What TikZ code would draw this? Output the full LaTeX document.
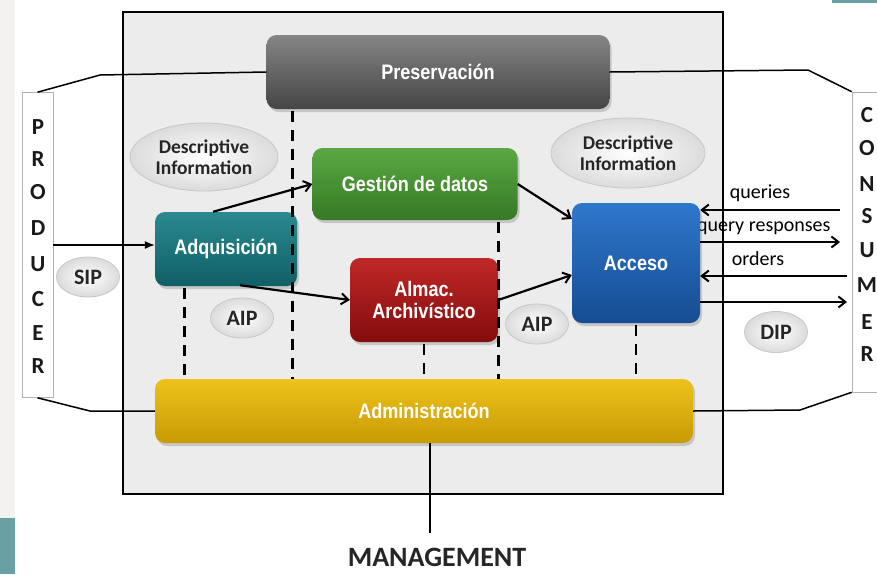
\documentclass[tikz,border=0pt]{standalone}
\usepackage{fontspec}
\setmainfont{Carlito}
\newfontfamily\boxfont[FakeStretch=0.86]{Liberation Sans}
\usetikzlibrary{arrows.meta,shapes.geometric,shadows,calc}
\definecolor{pagegray}{HTML}{F4F2F0}
\definecolor{slideteal}{HTML}{6AA0A4}
\definecolor{panel}{HTML}{ECECEC}
\definecolor{presT}{HTML}{858585}
\definecolor{presB}{HTML}{454545}
\definecolor{admT}{HTML}{EDC21A}
\definecolor{admB}{HTML}{C99A05}
\definecolor{adqT}{HTML}{2A8A8F}
\definecolor{adqB}{HTML}{0F5F66}
\definecolor{gesT}{HTML}{5AA843}
\definecolor{gesB}{HTML}{367A24}
\definecolor{almT}{HTML}{C02828}
\definecolor{almB}{HTML}{840C0C}
\definecolor{accT}{HTML}{2E78CC}
\definecolor{accB}{HTML}{164C92}
\tikzset{
  box/.style={rounded corners=10pt, inner sep=0pt, align=center,
    text=white, font=\boxfont\bfseries\fontsize{21}{24}\selectfont,
    drop shadow={opacity=0.35, shadow xshift=2pt, shadow yshift=-3pt}},
  oval/.style={ellipse, inner sep=0pt, draw=black!22, line width=0.8pt,
    inner color=white, outer color=black!14, align=center,
    font=\bfseries\fontsize{19.5}{21}\selectfont, text=black!85},
  strip/.style={draw=black!30, fill=white, line width=0.6pt, inner sep=0pt},
  letter/.style={font=\bfseries\fontsize{23}{23}\selectfont, text=black!90, inner sep=0pt},
  link/.style={line width=1.5pt},
  flow/.style={line width=2.2pt, -{Straight Barb[length=7pt,width=11pt,line width=2pt]}},
  dashline/.style={line width=2.8pt, dash pattern=on 11pt off 8pt},
  lbl/.style={font=\fontsize{20}{22}\selectfont, inner sep=0pt}
}
\begin{document}
\begin{tikzpicture}[x=1pt,y=-1pt]
\useasboundingbox (0,0) rectangle (877,574);
\fill[white] (0,0) rectangle (877,574);
\fill[pagegray] (0,0) rectangle (15,518);
\fill[slideteal] (0,518) rectangle (15,574);
\fill[slideteal] (832,0) rectangle (877,3);

% main panel
\draw[line width=1.6pt, fill=panel] (123,12) rectangle (723,494);

% side strips
\node[strip, minimum width=31pt, minimum height=305pt] (prod) at (37.5,245) {};
\node[strip, minimum width=40pt, minimum height=300pt] (cons) at (872,242) {};
\foreach \l/\yy [count=\i] in {P/127,R/159,O/192,D/228,U/264,C/299,E/333,R/366}
  \node[letter] (p\i) at (38,\yy) {\l};
\foreach \l/\yy [count=\i] in {C/115,O/148,N/184,S/216,U/250,M/285,E/322,R/354}
  \node[letter] (c\i) at (867,\yy) {\l};

% labels behind the Acceso box
\node[lbl] (lq) at (760,193) {queries};
\node[lbl, anchor=west] (lqr) at (697,228) {query responses};
\node[lbl] (lo) at (758,259) {orders};

% boxes
\node[box, minimum width=343pt, minimum height=74pt, top color=presT, bottom color=presB] (pres) at (438,72) {Preservación};
\node[box, minimum width=538pt, minimum height=64pt, top color=admT, bottom color=admB] (adm) at (424,411) {Administración};
\node[box, minimum width=142pt, minimum height=74pt, top color=adqT, bottom color=adqB] (adq) at (226,249) {Adquisición};
\node[box, minimum width=205pt, minimum height=72pt, top color=gesT, bottom color=gesB] (ges) at (415,184) {Gestión de datos};
\node[box, minimum width=148pt, minimum height=84pt, top color=almT, bottom color=almB] (alm) at (424,300) {Almac.\\[-2pt]Archivístico};
\node[box, minimum width=128pt, minimum height=120pt, top color=accT, bottom color=accB] (acc) at (636,263) {Acceso};

% ovals
\node[oval, minimum width=148pt, minimum height=68pt] (di1) at (204,157) {Descriptive\\Information};
\node[oval, minimum width=154pt, minimum height=70pt] (di2) at (628,153) {Descriptive\\Information};
\node[oval, minimum width=63pt, minimum height=40pt, font=\bfseries\fontsize{22}{22}\selectfont] (sip) at (88,277) {SIP};
\node[oval, minimum width=63pt, minimum height=40pt, font=\bfseries\fontsize{22}{22}\selectfont] (aip1) at (242,318) {AIP};
\node[oval, minimum width=63pt, minimum height=40pt, font=\bfseries\fontsize{22}{22}\selectfont] (aip2) at (537,324) {AIP};
\node[oval, minimum width=63pt, minimum height=41pt, font=\bfseries\fontsize{22}{22}\selectfont] (dip) at (776,332) {DIP};

% producer / consumer links
\draw[link] (prod.north) -- (100,75) -- (pres.west);
\draw[link] (pres.east) -- (808,70) -- (cons.north west);
\draw[link] (prod.south) -- (90,411) -- (adm.west);
\draw[link] (adm.east) -- (800,410) -- (cons.south west);

% internal flows
\draw[line width=1.3pt, -{Latex[length=10pt,width=8pt]}] (prod.east) -- (prod.east -| adq.west);
\draw[flow] ($(adq.north)+(-13,0)$) -- (ges.west);
\draw[flow] ($(adq.south)+(14,-1)$) -- (alm.west);
\draw[flow] (ges.east) -- ($(acc.north west)+(0,16)$);
\draw[flow] (alm.east) -- ($(acc.west)+(0,12)$);

% consumer flows
\coordinate (q1) at (840,210);
\coordinate (q2) at (840,242);
\coordinate (q3) at (847,276);
\coordinate (q4) at (847,302);
\draw[flow] (q1) -- (q1 -| acc.east);
\draw[flow] (q2 -| acc.east) -- (q2);
\draw[flow] (q3) -- (q3 -| acc.east);
\draw[flow] (q4 -| acc.east) -- (q4);

% dashed lines
\draw[dashline] ($(pres.south west)+(26,2)$) coordinate (d1) -- (d1 |- adm.north);
\draw[dashline] ($(adq.south west)+(30,2)$) coordinate (d2) -- (d2 |- adm.north);
\draw[dashline] ($(ges.south east)+(-19,2)$) coordinate (d3) -- (d3 |- adm.north);
\draw[dashline] ($(alm.south)+(0,2)$) coordinate (d4) -- (d4 |- adm.north);
\draw[dashline] ($(acc.south)+(0,2)$) coordinate (d5) -- (d5 |- adm.north);

% management
\node[font=\bfseries\fontsize{28}{28}\selectfont, text=black!85, inner sep=0pt, anchor=base] (mgmt) at (437,566) {MANAGEMENT};
\draw[line width=1.6pt] ($(adm.south)+(6,0)$) -- ($(mgmt.north)+(-7,-14)$);
\end{tikzpicture}
\end{document}
